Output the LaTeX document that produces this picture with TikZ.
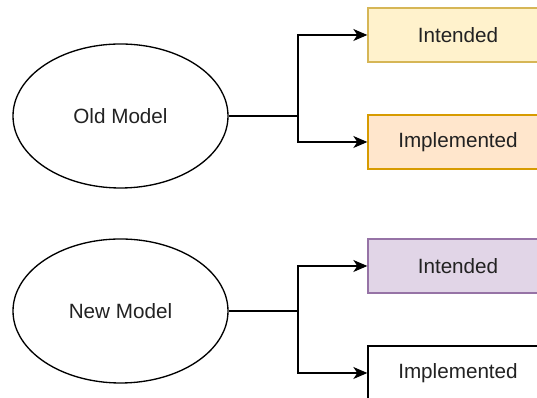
\documentclass[tikz,border=0pt]{standalone}
\usepackage{fontspec}
\setmainfont{Liberation Sans}
\usetikzlibrary{arrows.meta,shapes.geometric}
\definecolor{yelfill}{HTML}{FFF2CC}
\definecolor{yeldraw}{HTML}{D6B656}
\definecolor{orafill}{HTML}{FFE6CC}
\definecolor{oradraw}{HTML}{D79B00}
\definecolor{purfill}{HTML}{E1D5E7}
\definecolor{purdraw}{HTML}{9673A6}
\definecolor{txt}{HTML}{222222}
\tikzset{
  model/.style={draw=black, line width=1pt, ellipse, minimum width=161.25pt, minimum height=108pt, inner sep=0pt, text=txt, font=\fontsize{15.5}{18}\selectfont},
  stage/.style={rectangle, line width=1pt, minimum width=135pt, minimum height=40.5pt, inner sep=0pt, text=txt, font=\fontsize{15.5}{18}\selectfont},
  link/.style={draw=black, line width=1pt},
  arr/.style={link, -{Stealth[length=10.5pt, width=9pt, inset=3pt]}}
}
\begin{document}
\begin{tikzpicture}[x=0.75pt, y=-0.75pt]
  \useasboundingbox (0,0) rectangle (537,398);
  \clip (0,0) rectangle (537,398);
  \fill[white] (0,0) rectangle (537,398);

  % old model branch
  \node[model] (old) at (120.5,116) {Old Model};
  \node[stage, fill=yelfill, draw=yeldraw] (oi) at (458,35) {Intended};
  \node[stage, fill=orafill, draw=oradraw] (om) at (458,142) {Implemented};
  \coordinate (j1) at (298,116);
  \draw[link] (old.east) -- (j1);
  \draw[arr] (j1) |- (oi.west);
  \draw[arr] (j1) |- (om.west);

  % new model branch
  \node[model] (new) at (120.5,311) {New Model};
  \node[stage, fill=purfill, draw=purdraw] (ni) at (458,266) {Intended};
  \node[stage, fill=white, draw=black] (nm) at (458,373) {Implemented};
  \coordinate (j2) at (298,311);
  \draw[link] (new.east) -- (j2);
  \draw[arr] (j2) |- (ni.west);
  \draw[arr] (j2) |- (nm.west);
\end{tikzpicture}
\end{document}
